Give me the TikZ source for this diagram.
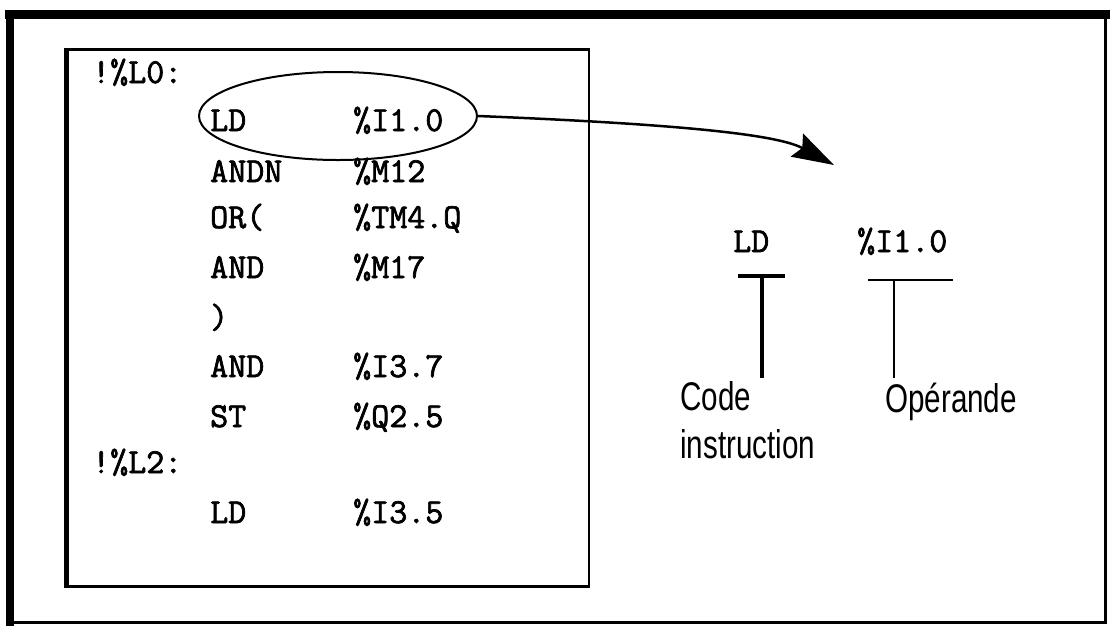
\documentclass[tikz,border=0pt]{standalone}
\usepackage{fontspec}
\setmainfont{Liberation Sans}
\newfontfamily\listfont[FakeBold=2]{Latin Modern Mono}
\newfontfamily\notefont[FakeStretch=0.74]{Liberation Sans}
\usetikzlibrary{arrows.meta,positioning,shapes.geometric}

\begin{document}
\begin{tikzpicture}[
  x=1pt,y=-1pt,
  frame/.style={draw,line width=3pt,minimum width=1094,minimum height=607,inner sep=0pt},
  listing/.style={draw,line width=2.5pt,minimum width=521,minimum height=537,inner sep=0pt},
  code/.style={anchor=base west,inner sep=0pt,font=\listfont\fontsize{35}{40}\selectfont},
  note/.style={anchor=north west,inner sep=0pt,align=left,font=\notefont\fontsize{40}{48}\selectfont},
  arrow/.style={-{Stealth[length=42pt,width=26pt,inset=6pt]},line width=2.5pt},
  bar/.style={line width=4pt},
  thinbar/.style={line width=2pt}
]
\useasboundingbox (0,0) rectangle (1110,625);

% frames
\node[frame] (frame) at (558,319) {};
\draw[line width=8pt,line cap=rect] (frame.south west) -- (frame.north west);
\draw[line width=9pt,line cap=rect] (frame.north west) -- (frame.north east);
\node[listing] (listing) at (328.25,318) {};
\draw[line width=5pt] (listing.south west) -- (listing.north west);

% program listing
\node[code] (lab0) at (92,83) {!\%L0:};
\node[code] (lab2) at (92,473) {!\%L2:};
\foreach \ins/\opd/\yy [count=\i] in {LD/\%I1.0/131, ANDN/\%M12/182, OR(/\%TM4.Q/228,
    AND/\%M17/278, )/{}/328, AND/\%I3.7/377, ST/\%Q2.5/427, LD/\%I3.5/523}{
  \node[code] (ins\i) at (210,\yy) {\ins};
  \node[code] (opd\i) at (353,\yy) {\opd};
}
\node[draw,ellipse,line width=2pt,minimum width=278,minimum height=88,inner sep=0pt] (sel) at (338,116) {};

% detail
\coordinate (tip) at (834,165);
\draw[arrow] (sel.east) .. controls (700,125) and (780,136) .. (tip);
\node[code] (opc) at (733,252) {LD};
\node[code] (opr) at (857,252) {\%I1.0};
\node[note] (codetxt) at (680,381) {Code\\instruction};
\node[note] (opnd) at (885,383) {Opérande};
\coordinate (cbar) at (762,276);
\coordinate (obar) at (894,280);
\draw[bar] ([xshift=-24pt]cbar) -- ([xshift=23pt]cbar);
\draw[bar] (cbar) -- ([yshift=3pt]cbar |- codetxt.north);
\draw[thinbar] ([xshift=-26pt]obar) -- ([xshift=59pt]obar);
\draw[thinbar] (obar) -- ([yshift=5pt]obar |- opnd.north);
\end{tikzpicture}
\end{document}
